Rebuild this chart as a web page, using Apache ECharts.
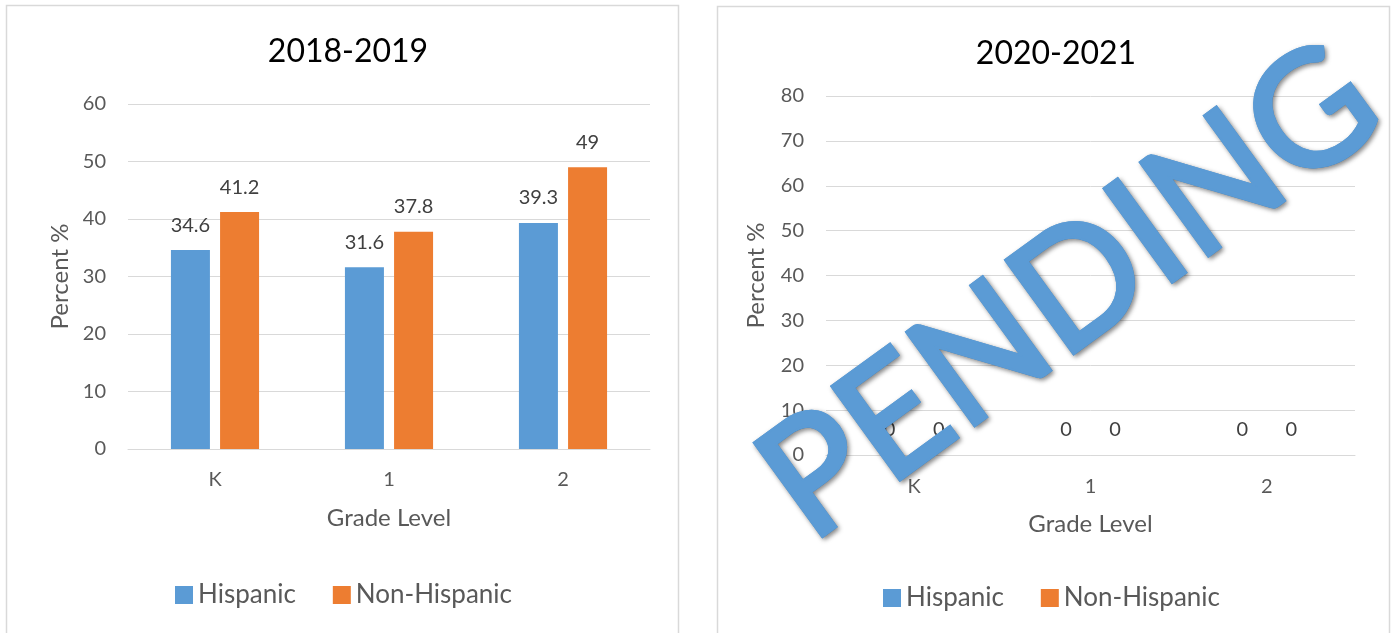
<!DOCTYPE html>
<html>
<head>
	<meta charset="utf-8">
	<title>Percent by Grade Level</title>
	<script src="https://cdn.jsdelivr.net/npm/echarts@6.0.0/dist/echarts.min.js"></script>
	<style>
		html, body { margin: 0; padding: 0; background: #ffffff; }
	</style>
</head>
<body>
	<div id="main" style="width:1393px; height:633px"></div>
	<script type="text/javascript">
	// data
	var categories = ['K', '1', '2'];
	var seriesNames = ['Hispanic', 'Non-Hispanic'];
	var hispanic1819 = [34.6, 31.6, 39.3];
	var nonHispanic1819 = [41.2, 37.8, 49];
	var hispanic2021 = [0, 0, 0];
	var nonHispanic2021 = [0, 0, 0];
	var titles = ['2018-2019', '2020-2021'];

	var BLUE = '#5B9BD5';
	var ORANGE = '#ED7D31';
	var GREY = '#595959';
	var LINE = '#D9D9D9';
	var FONT = 'Lato, "Open Sans", sans-serif';

	var myChart = echarts.init(document.getElementById('main'));

	function xAxis(gridIndex, margin, nameGap) {
		return {
			type: 'category',
			gridIndex: gridIndex,
			data: categories,
			name: 'Grade Level',
			nameLocation: 'middle',
			nameGap: nameGap,
			nameTextStyle: { color: GREY, fontSize: 24, fontFamily: FONT },
			axisLine: { show: true, lineStyle: { color: LINE, width: 1 } },
			axisTick: { show: false },
			axisLabel: { color: GREY, fontSize: 20, fontFamily: FONT, margin: margin }
		};
	}

	function yAxis(gridIndex, max, nameGap) {
		return {
			type: 'value',
			gridIndex: gridIndex,
			min: 0,
			max: max,
			interval: 10,
			name: 'Percent %',
			nameLocation: 'middle',
			nameGap: nameGap,
			nameTextStyle: { color: GREY, fontSize: 24, fontFamily: FONT },
			axisLine: { show: false },
			axisTick: { show: false },
			axisLabel: { color: GREY, fontSize: 20, fontFamily: FONT, margin: 22 },
			splitLine: { show: true, lineStyle: { color: LINE, width: 1 } }
		};
	}

	function bar(name, data, idx, color) {
		return {
			name: name,
			type: 'bar',
			xAxisIndex: idx,
			yAxisIndex: idx,
			data: data,
			barWidth: 39,
			barGap: '26%',
			itemStyle: { color: color },
			label: {
				show: true,
				position: 'top',
				distance: 15,
				color: '#404040',
				fontSize: 20,
				fontFamily: FONT
			}
		};
	}

	function legend(left, top) {
		return {
			data: seriesNames,
			left: left,
			top: top,
			orient: 'horizontal',
			icon: 'rect',
			itemWidth: 18,
			itemHeight: 18,
			itemGap: 37,
			textStyle: { color: GREY, fontSize: 26, fontFamily: FONT }
		};
	}

	// watermark text; the shadowed copy sits below a clean copy
	function watermark(withShadow, z) {
		var style = {
			text: 'PENDING',
			font: '160px Lato',
			fill: BLUE,
			stroke: BLUE,
			lineWidth: 4,
			align: 'center',
			verticalAlign: 'middle'
		};
		if (withShadow) {
			style.textShadowColor = 'rgba(0,0,0,0.4)';
			style.textShadowBlur = 5;
			style.textShadowOffsetX = 2;
			style.textShadowOffsetY = 2;
		}
		return {
			type: 'text',
			z: z,
			x: 1070,
			y: 292,
			rotation: 36 * Math.PI / 180,
			style: style
		};
	}

	var option = {
		backgroundColor: '#ffffff',
		animation: false,
		title: [
			{ text: titles[0], left: 343, top: 31, textAlign: 'center',
				textStyle: { color: '#000000', fontSize: 32, fontWeight: 'normal', fontFamily: FONT } },
			{ text: titles[1], left: 1051, top: 33, textAlign: 'center',
				textStyle: { color: '#000000', fontSize: 32, fontWeight: 'normal', fontFamily: FONT } }
		],
		legend: [legend(170, 577), legend(878, 580)],
		grid: [
			{ left: 128, top: 104, width: 522, height: 345, containLabel: false },
			{ left: 826, top: 96, width: 529, height: 359, containLabel: false }
		],
		xAxis: [xAxis(0, 21, 57), xAxis(1, 22, 57)],
		yAxis: [yAxis(0, 60, 56), yAxis(1, 80, 58)],
		series: [
			bar(seriesNames[0], hispanic1819, 0, BLUE),
			bar(seriesNames[1], nonHispanic1819, 0, ORANGE),
			bar(seriesNames[0], hispanic2021, 1, BLUE),
			bar(seriesNames[1], nonHispanic2021, 1, ORANGE)
		],
		graphic: [
			// chart area frames
			{ type: 'rect', z: -10, shape: { x: 6.5, y: 5.5, width: 672, height: 700 },
				style: { fill: null, stroke: LINE, lineWidth: 1.5 } },
			{ type: 'rect', z: -10, shape: { x: 717.5, y: 6.5, width: 672, height: 700 },
				style: { fill: null, stroke: LINE, lineWidth: 1.5 } },
			watermark(true, 100),
			watermark(false, 101)
		]
	};

	myChart.setOption(option);
	</script>
</body>
</html>
